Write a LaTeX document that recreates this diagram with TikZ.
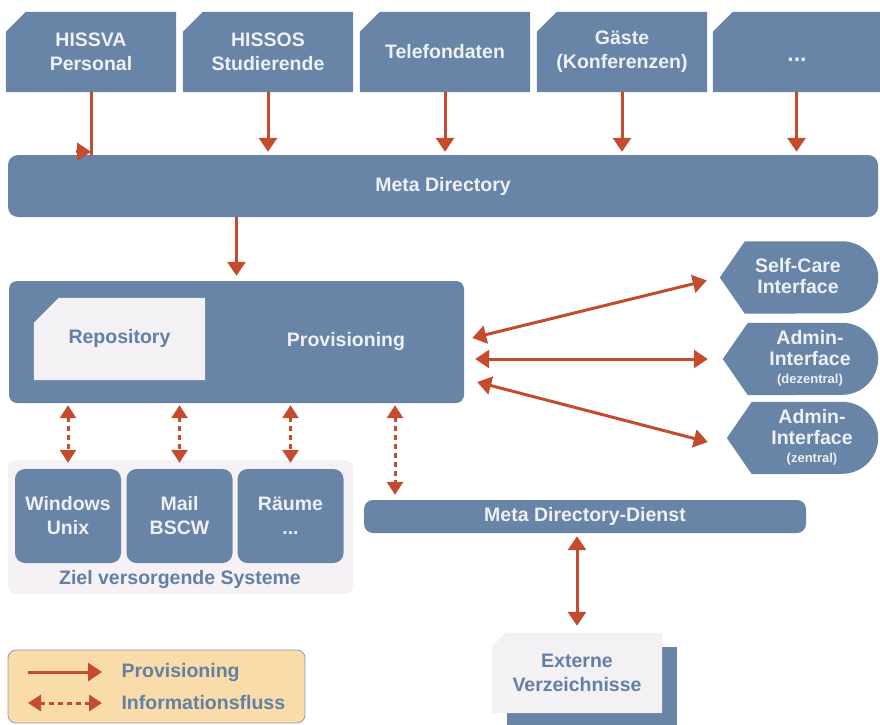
\documentclass[tikz,border=0pt]{standalone}
\usepackage{fontspec}
\setmainfont{Liberation Sans}
\usetikzlibrary{arrows.meta,backgrounds}

\definecolor{boxblue}{HTML}{6884A6}
\definecolor{boxtext}{HTML}{EEF0F6}
\definecolor{arrowred}{HTML}{C44B2D}
\definecolor{lightfill}{HTML}{F4F1F5}
\definecolor{zielfill}{HTML}{F5F1F5}
\definecolor{paletext}{HTML}{6280A4}
\definecolor{legendfill}{HTML}{FADCAA}
\definecolor{legendborder}{HTML}{8E9BB0}

% box with a cut top-left corner, drawn from a node's anchors
\newcommand\chamfill[3]{%
  \fill[#3] ([yshift=-#2]#1.north west) -- ([xshift=#2]#1.north west)
    -- (#1.north east) -- (#1.south east) -- (#1.south west) -- cycle;}
% pointed-left, rounded-right tag shape
\newcommand\tagfill[1]{%
  \fill[boxblue] (#1.west) -- ([xshift=25pt]#1.north west)
    -- ([xshift=-36pt]#1.north east) arc[start angle=90,end angle=-90,radius=36pt]
    -- ([xshift=25pt]#1.south west) -- cycle;}
\newcommand\subfont{\fontsize{13}{15}\selectfont}

\begin{document}
\begin{tikzpicture}[x=1pt,y=-1pt,
  txt/.style={font=\bfseries\fontsize{19.5}{24}\selectfont, align=center},
  geom/.style={inner sep=0pt, text=boxtext, txt},
  srcbox/.style={geom, minimum width=170pt, minimum height=80pt},
  panel/.style={geom, fill=boxblue, rounded corners=10pt},
  tagbox/.style={inner sep=0pt, minimum width=158pt, minimum height=72pt},
  tagtext/.style={text=boxtext, font=\bfseries\fontsize{19.5}{21}\selectfont, align=center},
  prov/.style={draw=arrowred, line width=3pt, -{Triangle[length=14pt,width=18pt]}},
  bidi/.style={draw=arrowred, line width=3pt,
    {Triangle[length=14pt,width=18pt]}-{Triangle[length=14pt,width=18pt]}},
  info/.style={draw=arrowred, line width=3pt, dash pattern=on 5pt off 4pt,
    {Triangle[length=13pt,width=16pt]}-{Triangle[length=13pt,width=16pt]}},
  legtext/.style={anchor=west, text=paletext, txt}]
\useasboundingbox (0,0) rectangle (880,724);

% source systems
\node[srcbox] (hissva) at (91,52) {HISSVA\\Personal};
\node[srcbox] (hissos) at (268,52) {HISSOS\\Studierende};
\node[srcbox] (tel) at (445,52) {Telefondaten};
\node[srcbox] (gaeste) at (622,52) {Gäste\\(Konferenzen)};
\node[srcbox, minimum width=167pt] (more) at (796.5,52) {};
\node[text=boxtext, font=\bfseries\fontsize{23}{24}\selectfont, anchor=base] at (797,61) {...};
\begin{scope}[on background layer]
  \chamfill{hissva}{20pt}{boxblue}
  \chamfill{hissos}{20pt}{boxblue}
  \chamfill{tel}{20pt}{boxblue}
  \chamfill{gaeste}{20pt}{boxblue}
  \chamfill{more}{20pt}{boxblue}
\end{scope}

% meta directory
\node[panel, minimum width=870pt, minimum height=62pt] (meta) at (443,186) {Meta Directory};

% provisioning with repository
\node[panel, rounded corners=8pt, minimum width=455pt, minimum height=122pt] (prov) at (236.5,342) {};
\node[inner sep=0pt, minimum width=171pt, minimum height=82pt] (repo) at (119.5,339) {};
\chamfill{repo}{25pt}{lightfill}
\node[txt, text=paletext] at (119.5,338) {Repository};
\node[txt, text=boxtext] at (346,341) {Provisioning};

% interfaces
\node[tagbox] (self) at (799,277.5) {};
\node[tagbox, minimum width=155pt] (adm1) at (800.5,359) {};
\node[tagbox, minimum width=151pt] (adm2) at (802.5,438) {};
\begin{scope}[on background layer]
  \tagfill{self}
  \tagfill{adm1}
  \tagfill{adm2}
\end{scope}
\node[tagtext] at (798,276) {Self-Care\\Interface};
\node[tagtext] at (810,358) {Admin-\\Interface\\[-3pt]{\subfont (dezentral)}};
\node[tagtext] at (812,437) {Admin-\\Interface\\[-3pt]{\subfont (zentral)}};

% target systems
\node[fill=zielfill, rounded corners=8pt, minimum width=345pt, minimum height=134pt] (ziel) at (180.5,527) {};
\node[panel, minimum width=106pt, minimum height=94pt] (win) at (68,516) {Windows\\Unix};
\node[panel, minimum width=106pt, minimum height=94pt] (mail) at (179.5,516) {Mail\\BSCW};
\node[panel, minimum width=106pt, minimum height=94pt] (raeume) at (290.5,516) {Räume\\...};
\node[txt, text=paletext] at (180,579) {Ziel versorgende Systeme};

% meta directory service and external directories
\node[panel, rounded corners=9pt, minimum width=442pt, minimum height=33pt] (dienst) at (585,516.5) {Meta Directory-Dienst};
\node[inner sep=0pt, minimum width=170pt, minimum height=80pt, txt, text=paletext] (ext) at (577,673) {Externe\\Verzeichnisse};
\begin{scope}[on background layer]
  \fill[boxblue] ([shift={(15pt,-14pt)}]ext.north west) rectangle ([shift={(15pt,-20pt)}]ext.south east);
  \chamfill{ext}{14pt}{lightfill}
\end{scope}

% legend
\node[fill=legendfill, draw=legendborder, line width=0.8pt, rounded corners=8pt,
      minimum width=297pt, minimum height=73pt] (leg) at (156.5,686.5) {};
\coordinate (l1s) at (28,672);
\coordinate (l1e) at (102,672);
\coordinate (l2s) at (28,703);
\coordinate (l2e) at (102,703);
\draw[prov] (l1s) -- (l1e);
\draw[info] (l2s) -- (l2e);
\node[legtext] at (118,672) {Provisioning};
\node[legtext] at (118,703) {Informationsfluss};

% provisioning flows into the meta directory
\draw[draw=arrowred, line width=3pt] (hissva.south) -- (hissva.south |- meta.north);
\draw[prov] ([xshift=-15pt,yshift=3pt]hissva.south |- meta.north) -- ([yshift=3pt]hissva.south |- meta.north);
\draw[prov, shorten >=3pt] (hissos.south) -- (hissos.south |- meta.north);
\draw[prov, shorten >=3pt] (tel.south) -- (tel.south |- meta.north);
\draw[prov, shorten >=3pt] (gaeste.south) -- (gaeste.south |- meta.north);
\draw[prov, shorten >=3pt] (more.south) -- (more.south |- meta.north);
\draw[prov, shorten >=5pt] (prov.north |- meta.south) -- (prov.north);

% interface connections
\draw[bidi] ([xshift=8pt,yshift=4pt]prov.east) -- ([xshift=-13pt,yshift=-3pt]self.west);
\draw[bidi] ([xshift=11pt,yshift=-17pt]prov.east) -- ([xshift=-15pt]adm1.west);
\draw[bidi] ([xshift=13pt,yshift=-40pt]prov.east) -- ([xshift=-19pt,yshift=-4pt]adm2.west);

% information flows to target systems
\draw[info, shorten <=2pt, shorten >=6pt] (win.north |- prov.south) -- (win.north);
\draw[info, shorten <=2pt, shorten >=6pt] (mail.north |- prov.south) -- (mail.north);
\draw[info, shorten <=2pt, shorten >=6pt] (raeume.north |- prov.south) -- (raeume.north);
\coordinate (d4) at (395,0);
\draw[info, shorten <=2pt, shorten >=5pt] (prov.south -| d4) -- (dienst.north -| d4);
\draw[bidi, shorten <=3pt, shorten >=7pt] (ext.north |- dienst.south) -- (ext.north);
\end{tikzpicture}
\end{document}
